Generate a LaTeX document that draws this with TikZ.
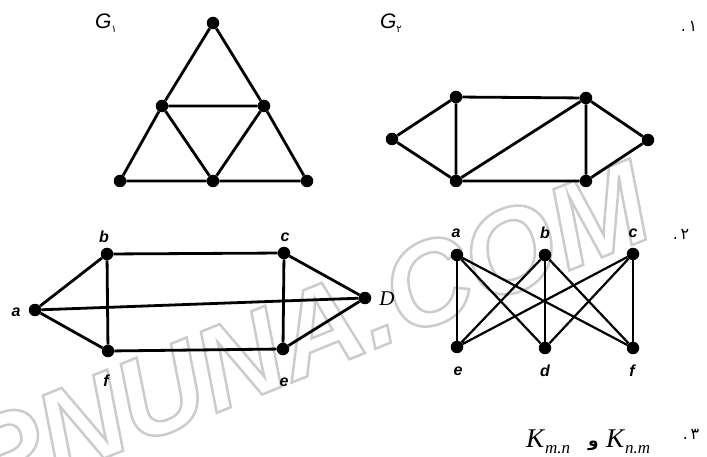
\documentclass[tikz,border=0pt]{standalone}
\usepackage{fontspec}
\setmainfont{Liberation Serif}
\newfontfamily\lsans{Liberation Sans}
\newfontfamily\arabicfont[Script=Arabic]{DejaVu Sans}
\begin{document}
\begin{tikzpicture}[x=1pt,y=-1pt,
  vtx/.style={circle,fill=black,inner sep=0pt,minimum size=12.5pt},
  edge/.style={line width=2.8pt},
  thin edge/.style={line width=2.2pt},
  lab/.style={font=\lsans\bfseries\itshape\fontsize{16}{16}\selectfont,inner sep=0pt},
  glab/.style={font=\lsans\itshape\fontsize{21}{21}\selectfont,inner sep=0pt},
  num/.style={font=\arabicfont\fontsize{16}{16}\selectfont,inner sep=0pt}]
\fill[white] (0,0) rectangle (707,457);
\useasboundingbox (0,0) rectangle (707,457);
% watermark
\node[rotate=22,xscale=1.0,inner sep=0pt,text=black!20] (wm) at (306,333)
  {\fontsize{118}{118}\lsans\bfseries\itshape\special{pdf:literal 1 Tr 2.5 w}PNUNA.COM\special{pdf:literal 0 Tr}};
% ---------- G1
\node[vtx] (t) at (213,23) {};
\node[vtx] (ml) at (162,106) {};
\node[vtx] (mr) at (264,106) {};
\node[vtx] (bl) at (120,181) {};
\node[vtx] (bm) at (213,181) {};
\node[vtx] (br) at (307,181) {};
\draw[edge] (t)--(ml) (t)--(mr) (ml)--(mr) (ml)--(bl) (ml)--(bm) (mr)--(bm) (mr)--(br) (bl)--(bm) (bm)--(br);
\node[glab] (g1) at (106,23) {G\raisebox{-4pt}{\arabicfont\upshape\mdseries\fontsize{10}{10}\selectfont ۱}};
% ---------- G2
\node[vtx] (l2) at (392,139) {};
\node[vtx] (tl2) at (456,97) {};
\node[vtx] (tr2) at (586,98) {};
\node[vtx] (r2) at (648,140) {};
\node[vtx] (bl2) at (456,181) {};
\node[vtx] (br2) at (586,181) {};
\draw[edge] (l2)--(tl2) (l2)--(bl2) (tl2)--(bl2) (tl2)--(tr2) (tr2)--(bl2) (tr2)--(br2) (tr2)--(r2) (r2)--(br2) (bl2)--(br2);
\node[glab] (g2) at (391,23) {G\raisebox{-4pt}{\arabicfont\upshape\mdseries\fontsize{10}{10}\selectfont ۲}};
\node[num] (n1) at (689,26) {.\,۱};
% ---------- graph 2 left
\node[vtx] (a) at (35,310) {};
\node[vtx] (b) at (107,254) {};
\node[vtx] (c) at (284,253) {};
\node[vtx] (D) at (365,298) {};
\node[vtx] (f) at (108,351) {};
\node[vtx] (e) at (283,349) {};
\draw[edge] (a)--(b) (a)--(f) (a)--(D) (b)--(c) (b)--(f) (c)--(e) (c)--(D) (f)--(e) (e)--(D);
\node[lab] (la) at (16,312) {a};
\node[lab] (lb) at (104,237) {b};
\node[lab] (lc) at (285,237) {c};
\node[font=\itshape\fontsize{21}{21}\selectfont,inner sep=0pt] (lD) at (387,299) {D};
\node[lab] (lf) at (106,381) {f};
\node[lab] (le) at (284,382) {e};
% ---------- graph 2 right (K33)
\node[vtx] (A) at (457,255) {};
\node[vtx] (B) at (545,255) {};
\node[vtx] (C) at (633,254) {};
\node[vtx] (E) at (457,347) {};
\node[vtx] (Dd) at (545,348) {};
\node[vtx] (F) at (633,348) {};
\draw[edge] (A)--(E) (B)--(Dd) (C)--(F);
\draw[thin edge] (A)--(Dd) (A)--(F) (B)--(E) (B)--(F) (C)--(E) (C)--(Dd);
\node[lab] (lA) at (456,233) {a};
\node[lab] (lB) at (545,233) {b};
\node[lab] (lC) at (633,233) {c};
\node[lab] (lE) at (458,371) {e};
\node[lab] (lDd) at (545,371) {d};
\node[lab] (lF) at (632,371) {f};
\node[num] (n2) at (681,234) {.\,۲};
% ---------- item 3
\node[anchor=base west,inner sep=0pt,font=\itshape\fontsize{27}{27}\selectfont] (k1) at (526,447)
  {K\kern1pt\raisebox{-6pt}{\fontsize{17}{17}\selectfont m.n}};
\node[anchor=base west,inner sep=0pt,font=\arabicfont\bfseries\fontsize{17}{17}\selectfont] (waw) at (588,446) {و};
\node[anchor=base west,inner sep=0pt,font=\itshape\fontsize{27}{27}\selectfont] (k2) at (606,447)
  {K\kern1pt\raisebox{-6pt}{\fontsize{17}{17}\selectfont n.m}};
\node[num] (n3) at (691,434) {.\,۳};
\end{tikzpicture}
\end{document}
